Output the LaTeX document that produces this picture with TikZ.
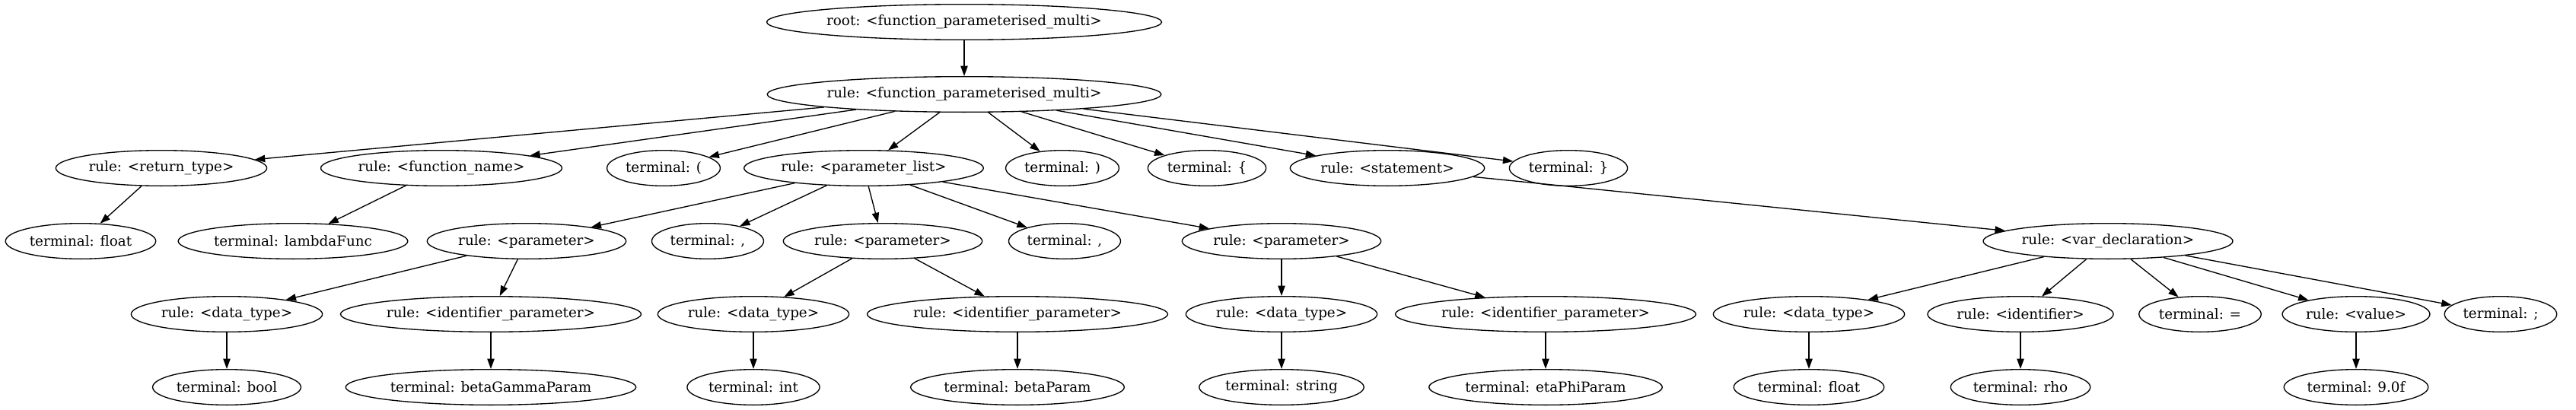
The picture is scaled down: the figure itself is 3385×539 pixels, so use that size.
\documentclass[tikz,border=0pt]{standalone}
\usepackage{fontspec}
\setmainfont{DejaVu Serif}
\usetikzlibrary{shapes.geometric,arrows.meta}

\begin{document}
\begin{tikzpicture}[x=0.75pt, y=-0.75pt, >={Triangle[length=10pt,width=7pt]},
                    every node/.style={draw, ellipse, font=\fontsize{13.75}{16}\selectfont,
                                       minimum height=35pt, minimum width=54pt,
                                       inner xsep=2pt, inner ysep=1pt, line width=1pt},
                    every path/.style={line width=1pt}]
  \useasboundingbox (0,0) rectangle (3385,539);
  % levels 0 and 1
  \node (root) at (1267,29) {root: <function\_parameterised\_multi>};
  \node (fpm) at (1267,124) {rule: <function\_parameterised\_multi>};
  % level 2
  \node (rettype) at (212,221) {rule: <return\_type>};
  \node (fname) at (580,221) {rule: <function\_name>};
  \node (lpar) at (872,221) {terminal: (};
  \node (plist) at (1135,221) {rule: <parameter\_list>};
  \node (rpar) at (1396,221) {terminal: )};
  \node (lbrace) at (1586,221) {terminal: \{};
  \node (stmt) at (1823,221) {rule: <statement>};
  \node (rbrace) at (2061,221) {terminal: \}};
  % level 3
  \node (retfloat) at (106,317) {terminal: float};
  \node (lambda) at (385,317) {terminal: lambdaFunc};
  \node (param1) at (692,317) {rule: <parameter>};
  \node (comma1) at (930,317) {terminal: ,};
  \node (param2) at (1160,317) {rule: <parameter>};
  \node (comma2) at (1399,317) {terminal: ,};
  \node (param3) at (1684,317) {rule: <parameter>};
  \node (vardecl) at (2770,317) {rule: <var\_declaration>};
  % level 4
  \node (dtype1) at (298,413) {rule: <data\_type>};
  \node (idparam1) at (645,413) {rule: <identifier\_parameter>};
  \node (dtype2) at (990,413) {rule: <data\_type>};
  \node (idparam2) at (1337,413) {rule: <identifier\_parameter>};
  \node (dtype3) at (1684,413) {rule: <data\_type>};
  \node (idparam3) at (2031,413) {rule: <identifier\_parameter>};
  \node (dtype4) at (2377,413) {rule: <data\_type>};
  \node (ident) at (2655,413) {rule: <identifier>};
  \node (equals) at (2891,413) {terminal: =};
  \node (value) at (3096,413) {rule: <value>};
  \node (semi) at (3286,413) {terminal: ;};
  % level 5
  \node (tbool) at (298,509) {terminal: bool};
  \node (tbgp) at (645,509) {terminal: betaGammaParam};
  \node (tint) at (990,509) {terminal: int};
  \node (tbp) at (1337,509) {terminal: betaParam};
  \node (tstring) at (1684,509) {terminal: string};
  \node (tepp) at (2031,509) {terminal: etaPhiParam};
  \node (tfloat) at (2377,509) {terminal: float};
  \node (trho) at (2655,509) {terminal: rho};
  \node (tval) at (3096,509) {terminal: 9.0f};
  % edges
  \draw[->] (root) -- (fpm);
  \foreach \c in {rettype,fname,lpar,plist,rpar,lbrace,stmt,rbrace}
    \draw[->] (fpm) -- (\c);
  \draw[->] (rettype) -- (retfloat);
  \draw[->] (fname) -- (lambda);
  \foreach \c in {param1,comma1,param2,comma2,param3}
    \draw[->] (plist) -- (\c);
  \draw[->] (stmt) -- (vardecl);
  \draw[->] (param1) -- (dtype1);
  \draw[->] (param1) -- (idparam1);
  \draw[->] (param2) -- (dtype2);
  \draw[->] (param2) -- (idparam2);
  \draw[->] (param3) -- (dtype3);
  \draw[->] (param3) -- (idparam3);
  \foreach \c in {dtype4,ident,equals,value,semi}
    \draw[->] (vardecl) -- (\c);
  \draw[->] (dtype1) -- (tbool);
  \draw[->] (idparam1) -- (tbgp);
  \draw[->] (dtype2) -- (tint);
  \draw[->] (idparam2) -- (tbp);
  \draw[->] (dtype3) -- (tstring);
  \draw[->] (idparam3) -- (tepp);
  \draw[->] (dtype4) -- (tfloat);
  \draw[->] (ident) -- (trho);
  \draw[->] (value) -- (tval);
\end{tikzpicture}
\end{document}
